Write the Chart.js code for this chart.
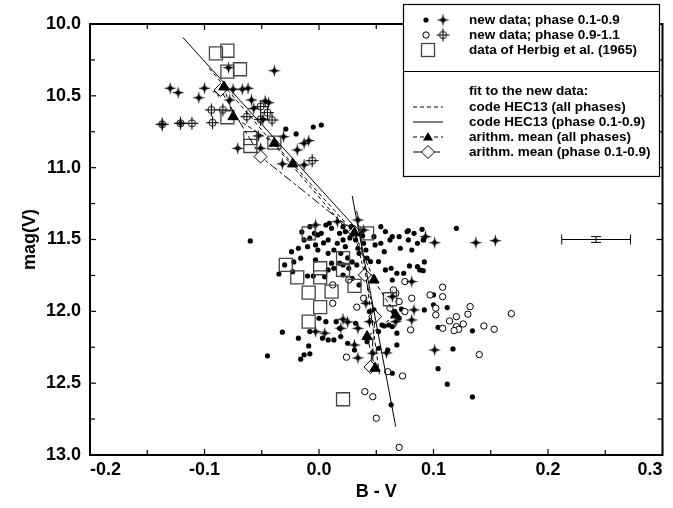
<!DOCTYPE html>
<html>
<head>
<meta charset="utf-8">
<script src="https://cdn.jsdelivr.net/npm/chart.js@4.4.0/dist/chart.umd.min.js"></script>
<style>
  html, body { margin: 0; padding: 0; background: #fff; }
  #wrap { width: 673px; height: 508px; }
</style>
</head>
<body>
<div id="wrap"><canvas id="cmd" width="673" height="508"></canvas></div>
<script>
// B-V / mag(V) pairs
const dotsMain = [
  [-0.029,10.731],[-0.020,10.765],[-0.005,10.717],[0.002,10.703],
  [-0.060,11.510],[-0.008,11.491],[-0.004,11.457],[-0.008,11.411],[0.002,11.457],[0.006,11.399],[0.011,11.422],
  [0.018,11.457],[0.021,11.411],[-0.001,11.468],[0.009,11.387],[0.023,11.445],[0.028,11.411],[0.031,11.457],
  [0.036,11.445],[0.048,11.480],[0.054,11.411],[0.058,11.445],[0.062,11.503],[0.064,11.480],[0.070,11.480],
  [0.077,11.445],[0.078,11.503],[0.083,11.457],[0.086,11.526],[0.091,11.503],[0.120,11.422],
  [-0.018,11.561],[-0.010,11.550],[0.016,11.526],[0.008,11.503],[-0.013,11.503],[0.032,11.503],[0.039,11.526],
  [0.049,11.538],[0.054,11.526],[-0.024,11.585],[-0.001,11.573],[0.008,11.596],[0.013,11.573],[0.019,11.596],
  [0.023,11.550],[0.034,11.561],[0.035,11.596],[0.041,11.573],[0.057,11.585],[0.071,11.561],[0.081,11.573],
  [-0.016,11.630],[-0.003,11.642],[0.042,11.630],[0.045,11.654],[0.052,11.654],[0.011,11.665],[0.018,11.665],
  [-0.030,11.677],[0.033,11.677],[-0.022,11.656],[0.013,11.700],[0.026,11.700],[0.058,11.712],[0.063,11.700],
  [0.068,11.735],[0.074,11.735],[0.086,11.689],[0.088,11.712],[0.091,11.717],[0.064,11.782],
  [-0.035,11.740],[-0.023,11.724],[-0.010,11.754],[-0.005,11.754],[0.005,11.759],[0.008,11.712],[0.021,11.747],
  [0.029,11.770],[0.035,11.816],[0.092,11.990],[0.100,11.886],[0.100,11.955],[0.112,11.974],[0.104,12.111],
  [0.065,12.002],[0.070,12.048],[0.061,12.095],[0.055,12.095],[0.072,11.985],[0.000,12.048],[0.006,12.072],
  [0.015,12.072],[0.032,12.083],[0.019,12.176],[0.018,12.118],[0.013,12.199],[0.008,12.199],[0.003,12.187],
  [-0.008,12.141],[-0.018,12.187],[-0.032,12.145],[-0.009,12.241],[-0.008,12.296],[-0.013,12.303],[-0.016,12.333],
  [-0.045,12.310],[0.025,12.222],[0.031,12.269],[0.042,12.211],[0.052,12.257],[0.060,12.269],[0.068,12.234],
  [0.068,12.152],[0.134,12.136],[0.117,12.262],[0.104,12.399],[0.112,12.507],[0.134,12.596],[0.064,12.431],
  [0.063,12.651],[-0.003,11.538],[0.004,11.524],[0.027,11.489],[0.038,11.475],[0.021,11.503],[-0.015,11.447],
  [0.025,11.628],[0.029,11.656],[0.021,11.677],[0.079,11.684],[0.092,11.656],[0.078,11.438],[0.090,11.429],
  [0.057,12.102],[0.052,12.141],[0.064,12.106],[0.048,11.990],[0.044,12.002]
];
const starsMain = [
  [-0.130,10.447],[-0.123,10.478],[-0.105,10.513],[-0.100,10.447],[-0.137,10.698],[-0.121,10.691],[-0.088,10.471],
  [-0.075,10.454],[-0.067,10.454],[-0.062,10.447],[-0.079,10.304],[-0.039,10.325],[-0.078,10.529],[-0.059,10.529],
  [-0.047,10.536],[-0.044,10.548],[-0.049,10.663],[-0.057,10.587],[-0.031,10.784],[-0.071,10.865],[-0.053,10.779],
  [-0.051,10.865],[-0.019,10.877],[-0.013,10.830],[-0.009,10.812],[-0.032,10.974],[-0.013,10.981],
  [-0.003,11.399],[0.016,11.376],[0.034,11.364],[0.039,11.434],[0.093,11.480],[0.101,11.522],[0.137,11.522],
  [0.154,11.508],[0.081,11.793],[0.081,12.060],[0.101,12.269],[0.083,11.990],[0.041,11.944],[0.044,12.072],
  [0.021,12.055],[0.025,12.074],[0.005,12.152],[-0.003,12.141],[0.047,12.292],[0.059,12.289],[0.031,12.234],
  [0.034,12.324],[0.067,12.072],[0.034,12.118],[0.019,12.118],[0.064,11.898]
];
const crossCirclesEdge = [
  [-0.094,10.598],[-0.093,10.687],[-0.111,10.691],[-0.137,10.698],[-0.121,10.691],[-0.051,10.575],
  [-0.045,10.617],[-0.041,10.668],[-0.063,10.645],[-0.084,10.598],[-0.006,10.951],[-0.051,10.663]
];
const circlesEdge = [
  [0.075,11.793],[0.081,11.909],[0.067,11.874],[0.065,11.851],[0.070,11.932],[0.075,12.002],[0.080,12.129],
  [0.062,11.978],[0.060,12.420],[0.073,12.450],[0.040,12.559],[0.047,12.594],[0.050,12.744],[0.024,12.319],
  [0.026,11.782],[0.012,11.816],[0.039,11.909],[0.033,11.971],[0.012,11.944],[0.097,11.886],[0.108,11.832],
  [0.108,11.898],[0.102,11.978],[0.102,12.025],[0.114,12.067],[0.120,12.037],[0.126,12.088],[0.132,11.967],
  [0.130,12.020],[0.120,12.106],[0.122,12.125],[0.108,12.118],[0.144,12.102],[0.153,12.125],[0.168,12.016],
  [0.140,12.301],[0.070,12.947],[0.118,12.134]
];
const herbig1965 = [
  [-0.090,10.204],[-0.080,10.186],[-0.080,10.332],[-0.069,10.315],[-0.080,10.649],[-0.060,10.795],[-0.060,10.849],
  [-0.039,10.826],[-0.009,11.457],[-0.029,11.677],[-0.019,11.763],[0.001,11.700],[0.001,11.763],[0.021,11.630],
  [0.021,11.712],[0.031,11.823],[0.011,11.863],[-0.009,11.870],[0.001,11.971],[-0.009,12.072],[0.062,11.916],
  [0.042,11.457],[0.021,12.612]
];
// fits
const hecPhaseUpper = [[-0.119,10.093],[0.031,11.410]];
const hecPhaseSteep = [[0.029,11.197],[0.067,12.802]];
const hecAllUpper = [[-0.096,10.308],[0.022,11.410]];
const hecAllSteep = [[0.033,11.300],[0.053,12.450]];
const meanAll = [[-0.083,10.438],[-0.075,10.645],[-0.039,10.830],[-0.023,10.974],[0.031,11.454],
  [0.048,11.782],[0.067,12.025],[0.042,12.176],[0.049,12.396]];
const meanMain = [[-0.086,10.459],[-0.051,10.923],[0.031,11.447],[0.040,11.747],[0.049,12.037],[0.045,12.387]];
// typical error
const errBV = [0.212, 0.272];
const errMag = 11.5;
const errMeanBV = 0.242;
const errMeanMag = [11.48, 11.52];

const FONT = "'Liberation Sans', Arial, Helvetica, sans-serif";
Chart.defaults.font.family = FONT;
Chart.defaults.color = '#000';

const toXY = arr => arr.map(([x, y]) => ({ x, y }));

function starImage() {
  const c = document.createElement('canvas');
  c.width = c.height = 15;
  const g = c.getContext('2d');
  const m = 7.5;
  g.beginPath();
  for (let k = 0; k < 8; k++) {
    const a = k * Math.PI / 4 - Math.PI / 2;
    const r = k % 2 ? 1.6 : 6.5;
    g.lineTo(m + r * Math.cos(a), m + r * Math.sin(a));
  }
  g.closePath();
  g.fillStyle = '#000';
  g.fill();
  g.beginPath();
  g.arc(m, m, 2.3, 0, Math.PI * 2);
  g.fill();
  return c;
}

function crossCircleImage() {
  const c = document.createElement('canvas');
  c.width = c.height = 15;
  const g = c.getContext('2d');
  const m = 7.5;
  g.strokeStyle = '#000';
  g.lineWidth = 1;
  g.beginPath();
  g.arc(m, m, 3.6, 0, Math.PI * 2);
  g.moveTo(m - 6.5, m); g.lineTo(m + 6.5, m);
  g.moveTo(m, m - 6.5); g.lineTo(m, m + 6.5);
  g.stroke();
  return c;
}

const starImg = starImage();
const crossImg = crossCircleImage();

const lineSet = (pts, dash) => ({
  data: toXY(pts), showLine: true, borderColor: '#000', borderWidth: 1,
  borderDash: dash, pointRadius: 0, fill: false, tension: 0
});

const framePlugin = {
  id: 'frame',
  afterDraw(chart) {
    const { ctx, chartArea: a, scales: { x, y } } = chart;
    ctx.save();
    ctx.strokeStyle = '#000';
    const seg = (x1, y1, x2, y2) => { ctx.beginPath(); ctx.moveTo(x1, y1); ctx.lineTo(x2, y2); ctx.stroke(); };

    // inward ticks on all four sides
    ctx.lineWidth = 1.2;
    for (let i = 0; i <= 10; i++) {
      const px = x.getPixelForValue(-0.2 + i * 0.05);
      const len = i % 2 ? 5 : 6;
      seg(px, a.bottom, px, a.bottom - len);
      seg(px, a.top, px, a.top + len);
    }
    for (let i = 0; i <= 12; i++) {
      const py = y.getPixelForValue(10 + i * 0.25);
      const len = i % 2 ? 5 : 6;
      seg(a.left, py, a.left + len, py);
      seg(a.right, py, a.right - len, py);
    }
    ctx.lineWidth = 2;
    ctx.strokeRect(a.left, a.top, a.right - a.left, a.bottom - a.top);

    // error bar
    ctx.lineWidth = 1;
    const ey = y.getPixelForValue(errMag);
    const ex1 = x.getPixelForValue(errBV[0]);
    const ex2 = x.getPixelForValue(errBV[1]);
    seg(ex1, ey, ex2, ey);
    seg(ex1, ey - 5, ex1, ey + 5);
    seg(ex2, ey - 5, ex2, ey + 5);
    const mx = x.getPixelForValue(errMeanBV);
    const my1 = y.getPixelForValue(errMeanMag[0]);
    const my2 = y.getPixelForValue(errMeanMag[1]);
    seg(mx, my1, mx, my2);
    seg(mx - 5, my1, mx + 5, my1);
    seg(mx - 5, my2, mx + 5, my2);

    // legend
    const L = 403, T = 4, R = 659, B = 176;
    ctx.fillStyle = '#fff';
    ctx.fillRect(L, T, R - L, B - T);
    ctx.lineWidth = 1.2;
    ctx.strokeRect(L + 0.5, T + 0.5, R - L, B - T);
    seg(L, 71.5, R, 71.5);
    const rows = [
      [20, 'new data; phase 0.1-0.9'],
      [35, 'new data; phase 0.9-1.1'],
      [50, 'data of Herbig et al. (1965)'],
      [91, 'fit to the new data:'],
      [107, 'code HEC13 (all phases)'],
      [122, 'code HEC13 (phase 0.1-0.9)'],
      [137, 'arithm. mean (all phases)'],
      [152, 'arithm. mean (phase 0.1-0.9)']
    ];
    ctx.fillStyle = '#000';
    ctx.font = "bold 13.5px " + FONT;
    ctx.textBaseline = 'middle';
    ctx.textAlign = 'left';
    rows.forEach(([ry, txt]) => ctx.fillText(txt, 469, ry));

    ctx.beginPath(); ctx.arc(426, 20, 2.6, 0, Math.PI * 2); ctx.fill();
    ctx.drawImage(starImg, 443 - 7.5, 20 - 7.5);
    ctx.lineWidth = 1;
    ctx.beginPath(); ctx.arc(426, 35, 3.2, 0, Math.PI * 2); ctx.stroke();
    ctx.drawImage(crossImg, 443 - 7.5, 35 - 7.5);
    ctx.lineWidth = 1.3;
    ctx.strokeStyle = '#444';
    ctx.strokeRect(421.5, 43.5, 13, 13);
    ctx.strokeStyle = '#000';
    ctx.lineWidth = 1;
    ctx.setLineDash([4, 3]);
    seg(413, 107, 443, 107);
    ctx.setLineDash([]);
    seg(413, 122, 443, 122);
    ctx.setLineDash([4, 3]);
    seg(413, 137, 443, 137);
    ctx.setLineDash([9, 3, 3, 3]);
    seg(413, 152, 443, 152);
    ctx.setLineDash([]);
    ctx.beginPath();
    ctx.moveTo(428, 132); ctx.lineTo(433, 140.5); ctx.lineTo(423, 140.5); ctx.closePath();
    ctx.fill();
    ctx.beginPath();
    ctx.moveTo(428, 145.5); ctx.lineTo(434.5, 152); ctx.lineTo(428, 158.5); ctx.lineTo(421.5, 152); ctx.closePath();
    ctx.fillStyle = '#fff'; ctx.fill(); ctx.stroke();
    ctx.restore();
  }
};

const fmt = v => (Math.abs(v) < 1e-9 ? '0.0' : v.toFixed(1));

new Chart(document.getElementById('cmd'), {
  type: 'scatter',
  data: {
    datasets: [
      lineSet(hecPhaseUpper, []),
      lineSet(hecPhaseSteep, []),
      lineSet(hecAllUpper, [4, 3]),
      lineSet(hecAllSteep, [4, 3]),
      {
        data: toXY(meanAll), showLine: true, borderColor: '#000', borderWidth: 1, borderDash: [4, 3],
        pointStyle: 'triangle', pointRadius: 6, backgroundColor: '#000', pointBorderWidth: 1
      },
      {
        data: toXY(meanMain), showLine: true, borderColor: '#000', borderWidth: 1, borderDash: [9, 3, 3, 3],
        pointStyle: 'rectRot', pointRadius: 6.5, backgroundColor: '#fff', pointBorderWidth: 1
      },
      {
        data: toXY(herbig1965), pointStyle: 'rect', pointRadius: 9.2,
        backgroundColor: 'rgba(0,0,0,0)', borderColor: '#444', borderWidth: 1.3
      },
      { data: toXY(starsMain), pointStyle: starImg, pointRadius: 7 },
      { data: toXY(crossCirclesEdge), pointStyle: crossImg, pointRadius: 7 },
      {
        data: toXY(circlesEdge), pointStyle: 'circle', pointRadius: 3.2,
        backgroundColor: '#fff', borderColor: '#000', borderWidth: 1
      },
      {
        data: toXY(dotsMain), pointStyle: 'circle', pointRadius: 2.6,
        backgroundColor: '#000', borderColor: '#000', borderWidth: 0
      }
    ]
  },
  options: {
    responsive: false,
    animation: false,
    devicePixelRatio: 1,
    layout: { padding: { top: 24, right: 5, left: 0, bottom: 0 } },
    plugins: { legend: { display: false }, tooltip: { enabled: false } },
    scales: {
      x: {
        type: 'linear', min: -0.2, max: 0.3,
        border: { display: false },
        grid: { drawOnChartArea: false, drawTicks: false },
        ticks: { stepSize: 0.1, align: 'inner', padding: 4, maxRotation: 0, autoSkip: false,
          font: { size: 18, weight: 'bold' }, callback: fmt },
        title: { display: true, text: 'B - V', font: { size: 18, weight: 'bold' }, padding: { top: 0, bottom: 5 } },
        afterFit: s => { s.height = 53; }
      },
      y: {
        type: 'linear', min: 10, max: 13, reverse: true,
        border: { display: false },
        grid: { drawOnChartArea: false, drawTicks: false },
        ticks: { stepSize: 0.5, padding: 9, autoSkip: false,
          font: { size: 18, weight: 'bold' }, callback: fmt },
        title: { display: true, text: 'mag(V)', font: { size: 18, weight: 'bold' }, padding: { top: 19, bottom: 0 } },
        afterFit: s => { s.width = 90; }
      }
    }
  },
  plugins: [framePlugin]
});
</script>
</body>
</html>
